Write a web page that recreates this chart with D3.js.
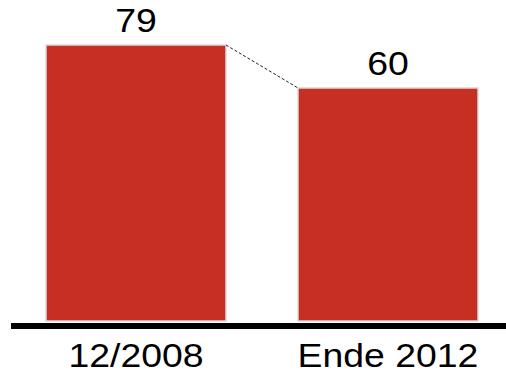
<!DOCTYPE html>
<html>
<head>
<meta charset="utf-8">
<script src="https://cdn.jsdelivr.net/npm/d3@7/dist/d3.min.js"></script>
<style>
  html, body { margin: 0; padding: 0; background: #fff; }
  svg { display: block; }
  text { font-family: "Liberation Sans", Arial, Helvetica, sans-serif; fill: #000; }
</style>
</head>
<body>
<svg id="chart" width="506" height="373"></svg>
<script>
const categories = ["12/2008", "Ende 2012"];
const values = [79, 60];
const valueLabels = ["79", "60"];

const svg = d3.select("#chart");

const x = d3.scaleBand()
  .domain(categories)
  .range([10, 514])
  .paddingInner(0.2857)
  .paddingOuter(0.142857);

const y = d3.scaleLinear()
  .domain([-43, 79])
  .range([321, 45]);

const data = categories.map((c, i) => ({ cat: c, value: values[i], label: valueLabels[i] }));

// bars
svg.selectAll("rect.bar")
  .data(data)
  .enter().append("rect")
  .attr("class", "bar")
  .attr("x", d => x(d.cat))
  .attr("y", d => y(d.value))
  .attr("width", x.bandwidth())
  .attr("height", d => y.range()[0] - y(d.value))
  .attr("fill", "#c63023")
  .attr("stroke", "#dadada")
  .attr("stroke-width", 1.5);

// dashed connector
svg.append("line")
  .attr("x1", x(categories[0]) + x.bandwidth())
  .attr("y1", y(values[0]))
  .attr("x2", x(categories[1]))
  .attr("y2", y(values[1]))
  .attr("stroke", "#222")
  .attr("stroke-width", 1)
  .attr("stroke-dasharray", "3,2");

// baseline
svg.append("line")
  .attr("x1", 11)
  .attr("x2", 506)
  .attr("y1", 326)
  .attr("y2", 326)
  .attr("stroke", "#000")
  .attr("stroke-width", 6);

// value labels
svg.selectAll("text.val")
  .data(data)
  .enter().append("text")
  .attr("class", "val")
  .attr("text-anchor", "middle")
  .attr("font-size", 34)
  .attr("transform", d => `translate(${x(d.cat) + x.bandwidth() / 2},${y(d.value) - 13}) scale(1.1,1)`)
  .text(d => d.label);

// category labels
svg.selectAll("text.cat")
  .data(data)
  .enter().append("text")
  .attr("class", "cat")
  .attr("text-anchor", "middle")
  .attr("font-size", 32.5)
  .attr("transform", d => `translate(${x(d.cat) + x.bandwidth() / 2},366.5) scale(1.15,1)`)
  .text(d => d.cat);
</script>
</body>
</html>
